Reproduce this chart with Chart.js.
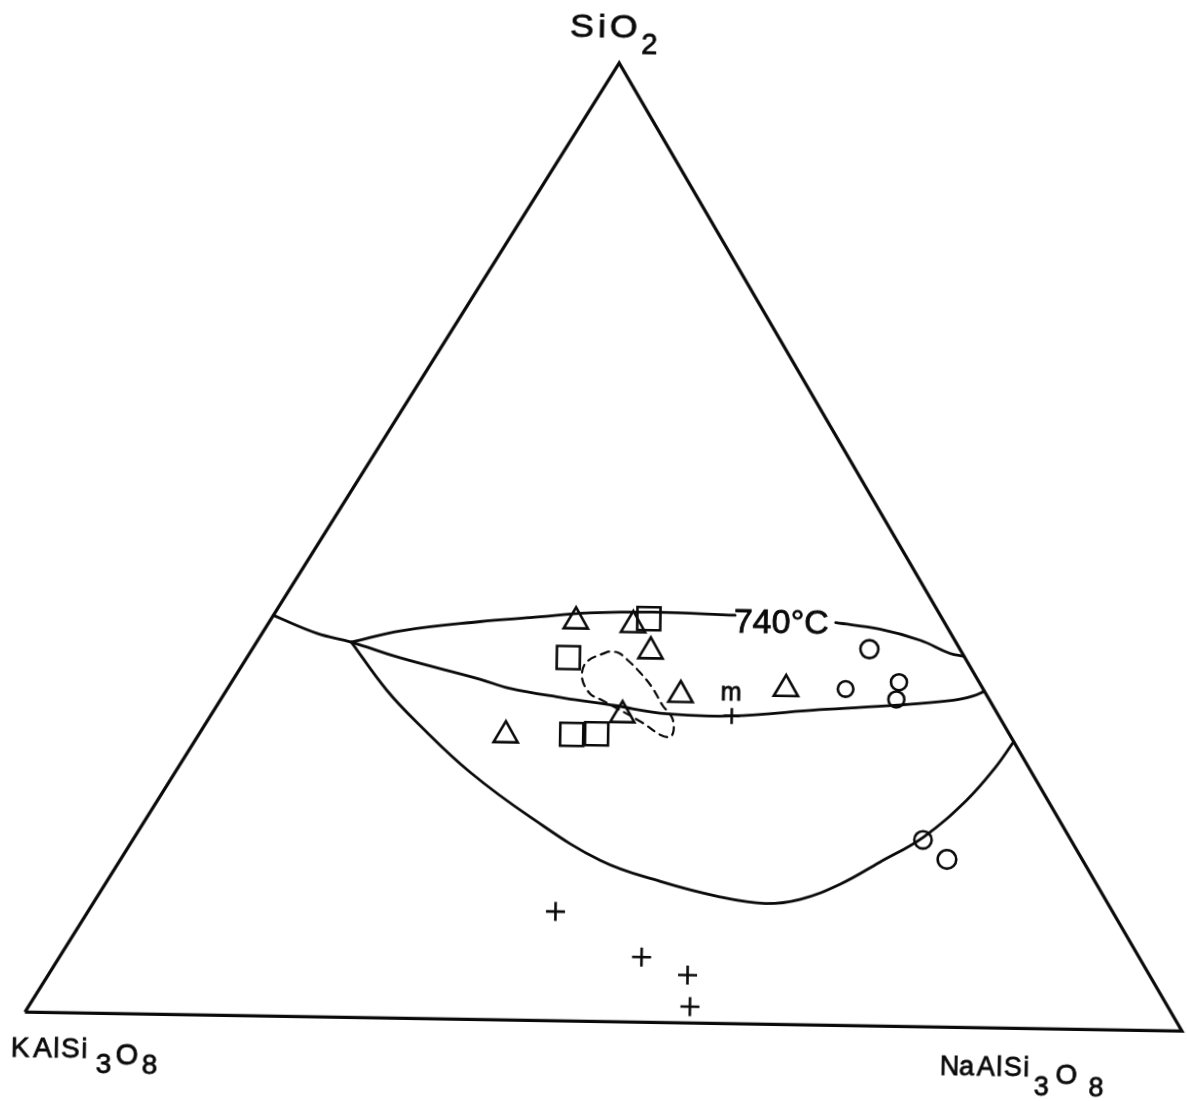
<!DOCTYPE html>
<html>
<head>
<meta charset="utf-8">
<script src="https://cdn.jsdelivr.net/npm/chart.js@4/dist/chart.umd.min.js"></script>
<style>
  html, body { margin: 0; padding: 0; background: #fff; overflow: hidden; width: 1187px; height: 1101px; }
  #sheet { position: absolute; left: -40px; top: -20px; width: 1267px; height: 1141px;
           transform-origin: 633.5px 570.5px; transform: rotate(0.94deg); }
  canvas { display: block; }
</style>
</head>
<body>
<div id="sheet"><canvas id="diagram" width="1267" height="1141"></canvas></div>
<script>
// Compositions in wt%: [NaAlSi3O8, SiO2]; KAlSi3O8 makes up the remainder.
const triangleSamples = [[26.2, 41.7], [31.3, 41.4], [34.2, 38.7], [39.1, 34.2], [35.2, 32.0], [26.3, 29.7], [47.8, 35.0]];
const squareSamples   = [[32.3, 42.1], [27.5, 37.9], [31.9, 29.9], [34.0, 30.0]];
const circleSamples   = [[52.8, 39.3], [52.9, 35.1], [57.1, 35.9], [57.8, 34.1], [67.6, 19.5], [70.7, 17.5]];
const crossSamples    = [[40.0, 11.4], [49.8, 6.8], [54.7, 5.0], [56.6, 1.7]];
const minimumPoint    = [[44.6, 32.1]];

// Phase boundaries
const cotecticLine = [[0, 41.8], [4.7, 40.0], [8.1, 39.15], [13.1, 37.6], [21.1, 35.5], [24.1, 34.6], [29.2, 33.7],
                      [33.9, 33.0], [39.0, 32.2], [44.6, 32.1], [51.8, 32.9], [58.2, 33.5], [62.7, 34.1], [64.2, 34.6], [64.9, 35.1]];
const isotherm740West = [[8.1, 39.15], [11.7, 40.4], [18.0, 41.5], [22.1, 42.0], [27.0, 42.6], [32.3, 42.8], [39.5, 42.6]];
const isotherm740East = [[48.5, 42.0], [52.6, 41.4], [56.7, 40.3], [59.9, 39.0], [61.3, 38.7]];
const solvusCurve = [[8.1, 39.15], [13.7, 34.2], [18.4, 30.6], [25.2, 25.8], [32.8, 21.2], [41.1, 16.8], [47.4, 14.7],
                     [53.3, 13.2], [57.5, 12.6], [60.3, 13.1], [62.9, 14.75], [65.1, 17.1], [67.5, 19.8], [69.2, 23.7], [69.9, 27.1], [70.1, 29.9]];
const dashedField = [[30.6, 38.6], [29.3, 37.5], [29.7, 35.9], [31.25, 34.2], [32.7, 33.5], [37.4, 31.2], [39.5, 30.0], [40.45, 29.8],
                     [40.4, 30.5], [39.6, 31.8], [38.1, 33.1], [36.3, 34.9], [34.4, 36.5], [32.7, 37.75], [31.5, 38.5], [30.6, 38.6]];
const endMembers = [[0, 0], [100, 0], [0, 100], [0, 0]];   // Or, Ab, Qz corners
const isothermLabel = [40.4, 40.85];

// ternary (Ab, SiO2) -> plane coordinates
const toXY = ([ab, si]) => ({ x: ab + si / 2, y: si * Math.sqrt(3) / 2 });
const pts = arr => arr.map(toXY);

const INK = '#0a0a0a';
const curve = (data, extra) => Object.assign({
  data: pts(data), showLine: true, borderColor: INK, borderWidth: 2.8, pointRadius: 0,
  tension: 0.4, fill: false, borderCapStyle: 'round', borderJoinStyle: 'round'
}, extra || {});
const markers = (data, style, radius) => ({
  data: pts(data), showLine: false, pointStyle: style, pointRadius: radius,
  pointBorderColor: INK, pointBackgroundColor: 'rgba(0,0,0,0)', pointBorderWidth: 2.6
});

const FONT = '"Liberation Sans", Arial, sans-serif';
function drawRuns(ctx, x0, y0, runs) {
  runs.forEach(r => {
    ctx.save();
    ctx.font = r.size + 'px ' + FONT;
    ctx.letterSpacing = (r.spacing || 0) + 'px';
    ctx.textAlign = r.align || 'left';
    ctx.textBaseline = 'alphabetic';
    ctx.translate(x0 + r.dx, y0 + r.dy);
    ctx.scale(r.sx || 1, 1);
    ctx.fillStyle = INK;
    ctx.strokeStyle = INK;
    ctx.lineWidth = 0.8;
    ctx.fillText(r.text, 0, 0);
    ctx.strokeText(r.text, 0, 0);
    ctx.restore();
  });
}

const labelPlugin = {
  id: 'ternaryLabels',
  afterDatasetsDraw(chart) {
    const { ctx, scales: { x, y } } = chart;
    const px = v => { const p = toXY(v); return [x.getPixelForValue(p.x), y.getPixelForValue(p.y)]; };
    const [qx, qy] = px([0, 100]);
    const [ox, oy] = px([0, 0]);
    const [ax, ay] = px([100, 0]);
    drawRuns(ctx, qx - 47.6, qy - 25.2, [
      { text: 'SiO', dx: -2, dy: 0, size: 31, spacing: 3.5, sx: 1.15 },
      { text: '2', dx: 69.5, dy: 16, size: 29 }
    ]);
    drawRuns(ctx, ox - 11.5, oy + 44.9, [
      { text: 'K', dx: -2, dy: 0, size: 28 },
      { text: 'AlSi', dx: 20.3, dy: 0, size: 28, spacing: 1.5 },
      { text: '3', dx: 83.1, dy: 15, size: 28 },
      { text: 'O', dx: 103, dy: 6, size: 29 },
      { text: '8', dx: 129.1, dy: 15, size: 28 }
    ]);
    drawRuns(ctx, ax - 239.5, ay + 47.9, [
      { text: 'N', dx: -2.1, dy: 0, size: 27 },
      { text: 'a', dx: 17.3, dy: 0, size: 27 },
      { text: 'AlSi', dx: 35, dy: 0, size: 27, spacing: 1.5 },
      { text: '3', dx: 92.3, dy: 18.3, size: 27 },
      { text: 'O', dx: 113.7, dy: 6.7, size: 28 },
      { text: '8', dx: 147, dy: 18.3, size: 27 }
    ]);
    const [lx, ly] = px(isothermLabel);
    drawRuns(ctx, lx, ly, [{ text: '740°C', dx: -1.5, dy: 0, size: 34 }]);
    const [mx, my] = px(minimumPoint[0]);
    drawRuns(ctx, mx, my, [{ text: 'm', dx: -1, dy: -16, size: 25, align: 'center' }]);
  }
};

new Chart(document.getElementById('diagram'), {
  type: 'scatter',
  data: {
    datasets: [
      curve(endMembers, { tension: 0, borderWidth: 3.2, borderJoinStyle: 'miter', borderCapStyle: 'butt' }),
      curve(cotecticLine),
      curve(isotherm740West),
      curve(isotherm740East),
      curve(solvusCurve),
      curve(dashedField, { borderWidth: 2.2, borderDash: [8, 6], tension: 0.35 }),
      markers(triangleSamples, 'triangle', 14),
      markers(squareSamples, 'rect', 16.3),
      Object.assign(markers(circleSamples, 'circle', 9), { pointRadius: [9, 7.8, 8, 8, 8.7, 9.3] }),
      markers(crossSamples, 'cross', 9.5),
      markers(minimumPoint, 'cross', 8)
    ]
  },
  options: {
    responsive: false,
    animation: false,
    events: [],
    layout: { padding: 0, autoPadding: false },
    plugins: { legend: { display: false }, tooltip: { enabled: false }, title: { display: false } },
    scales: {
      x: { type: 'linear', min: -6.274, max: 103.215, display: false },
      y: { type: 'linear', min: -9.0, max: 94.07, display: false }
    }
  },
  plugins: [labelPlugin]
});
</script>
</body>
</html>
